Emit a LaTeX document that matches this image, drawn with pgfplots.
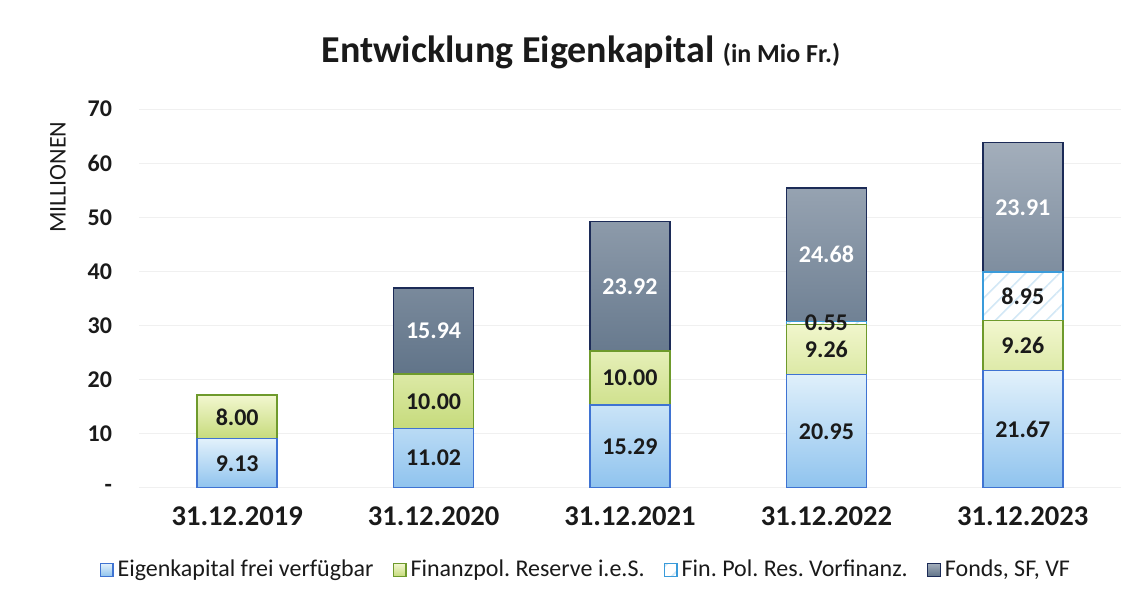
\documentclass[border=0pt]{standalone}
\usepackage{pgfplots}
\pgfplotsset{compat=1.18}
\usepackage{pgfplotstable}
\usetikzlibrary{patterns.meta}
\usepackage{fontspec}
\setmainfont{Carlito}
\frenchspacing
\definecolor{ekTop}{HTML}{E2F1FB}
\definecolor{ekBot}{HTML}{8FC3EE}
\definecolor{ekLine}{HTML}{3F73D2}
\definecolor{grTop}{HTML}{F2F7CF}
\definecolor{grBot}{HTML}{C6DB7C}
\definecolor{grLine}{HTML}{6E9A2C}
\definecolor{fpLine}{HTML}{3A9BDA}
\definecolor{fpHatch}{HTML}{D3E8F6}
\definecolor{fdTop}{HTML}{A3AEBB}
\definecolor{fdBot}{HTML}{617489}
\definecolor{fdLine}{HTML}{1C2B57}
\definecolor{txt}{HTML}{1A1A1A}

% 2019 (only two components)
\pgfplotstableread[col sep=comma]{
x,y,lab
0,9.13,9.13
}\tblEKa
\pgfplotstableread[col sep=comma]{
x,y,lab
0,8.00,8.00
}\tblGRa
% 2020-2023
\pgfplotstableread[col sep=comma]{
x,y,lab
1,11.02,11.02
2,15.29,15.29
3,20.95,20.95
4,21.67,21.67
}\tblEK
\pgfplotstableread[col sep=comma]{
x,y,lab
1,10.00,10.00
2,10.00,10.00
3,9.26,9.26
4,9.26,9.26
}\tblGR
\pgfplotstableread[col sep=comma]{
x,y,lab
1,0,{}
2,0,{}
3,0.55,0.55
4,8.95,8.95
}\tblFP
\pgfplotstableread[col sep=comma]{
x,y,lab
1,15.94,15.94
2,23.92,23.92
3,24.68,24.68
4,23.91,23.91
}\tblFD

\pgfplotsset{
  base/.style={
    at={(0pt,0pt)}, anchor=south west,
    scale only axis, width=491pt, height=189.5pt,
    xmin=-0.5, xmax=4.5, ymin=0, ymax=70,
    ybar stacked, bar width=40pt,
    axis line style={draw=none}, major tick length=0pt,
    point meta=explicit symbolic,
    nodes near coords,
    every node near coord/.append style={anchor=center, text=txt,
      font=\bfseries\fontsize{12}{12}\selectfont},
  },
  sqleg/.style={legend image code/.code={\draw[##1, line width=0.6pt] (0pt,-3.2pt) rectangle (6.4pt,3.2pt);}},
  ekstyle/.style={draw=ekLine, line width=0.8pt, shade, top color=ekTop, bottom color=ekBot, sqleg},
  grstyle/.style={draw=grLine, line width=0.8pt, shade, top color=grTop, bottom color=grBot, sqleg},
  fpstyle/.style={draw=fpLine, line width=0.8pt, fill=white, postaction={pattern={Lines[angle=45,distance=6pt,line width=0.8pt]}, pattern color=fpHatch}, sqleg},
  fdstyle/.style={draw=fdLine, line width=0.8pt, shade, top color=fdTop, bottom color=fdBot, sqleg, every node near coord/.append style={text=white}},
}

\begin{document}
\begin{tikzpicture}
\path[use as bounding box] (-69.5pt,-57.5pt) rectangle (502.5pt,244pt);
\begin{axis}[base,
  xtick={0,1,2,3,4},
  xticklabels={31.12.2019,31.12.2020,31.12.2021,31.12.2022,31.12.2023},
  ytick={0,10,20,30,40,50,60,70},
  yticklabels={-,10,20,30,40,50,60,70},
  ymajorgrids, major grid style={black!6, line width=0.5pt},
  yticklabel style={font=\bfseries\fontsize{12}{13}\selectfont, text=txt, xshift=-10pt},
  xticklabel style={font=\bfseries\fontsize{14.3}{16}\selectfont, text=txt, yshift=-6pt},
  ylabel={MILLIONEN},
  ylabel style={at={(axis description cs:-0.0825,0.82)}, anchor=center, font=\fontsize{12}{13}\selectfont, text=txt},
  legend style={draw=none, fill=none, at={(0.456,-0.216)}, anchor=center,
    legend columns=4, font=\fontsize{12}{14}\selectfont, text=txt,
    /tikz/every even column/.append style={column sep=7.5pt}},
  legend cell align=left,
]
\addplot[ekstyle] table[x=x,y=y,meta=lab]{\tblEK};
\addlegendentry{Eigenkapital frei verfügbar}
\addplot[grstyle] table[x=x,y=y,meta=lab]{\tblGR};
\addlegendentry{Finanzpol. Reserve i.e.S.}
\addplot[fpstyle] table[x=x,y=y,meta=lab]{\tblFP};
\addlegendentry{Fin. Pol. Res. Vorfinanz.}
\addplot[fdstyle] table[x=x,y=y,meta=lab]{\tblFD};
\addlegendentry{Fonds, SF, VF}
\end{axis}
\begin{axis}[base, hide axis]
\addplot[ekstyle] table[x=x,y=y,meta=lab]{\tblEKa};
\addplot[grstyle] table[x=x,y=y,meta=lab]{\tblGRa};
\end{axis}
\node[font=\bfseries\fontsize{19}{22}\selectfont, text=txt] at (221pt,218pt)
  {Entwicklung Eigenkapital {\fontsize{13}{15}\selectfont (in Mio Fr.)}};
\end{tikzpicture}
\end{document}
